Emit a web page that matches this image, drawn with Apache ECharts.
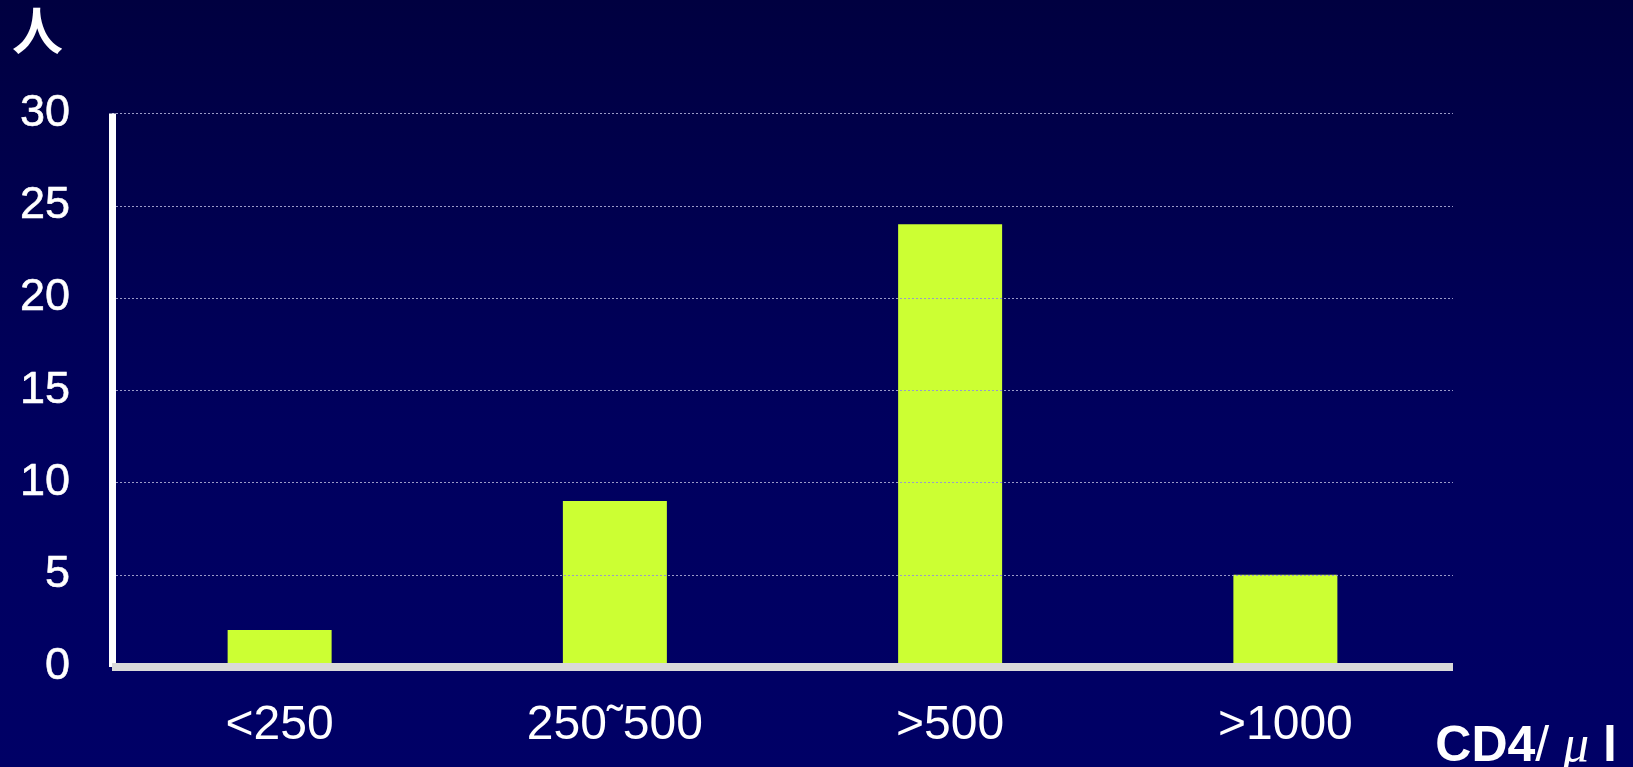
<!DOCTYPE html>
<html>
<head>
<meta charset="utf-8">
<title>CD4</title>
<script src="https://cdn.jsdelivr.net/npm/echarts@6/dist/echarts.min.js"></script>
<style>
  html, body { margin: 0; padding: 0; width: 100%; height: 100%; overflow: hidden; }
  #chart { width: 1633px; height: 767px; }
</style>
</head>
<body>
<div id="chart"></div>
<script>
// CD4 count ranges and number of people in each
const categories = ['<250', '250˜500', '>500', '>1000'];
const people = [2, 9, 24, 5];
const yTicks = [0, 5, 10, 15, 20, 25, 30];
const yUnit = '人';
const xUnitLead = 'CD4';
const xUnitSlash = '/ ';
const xUnitMu = 'μ';
const xUnitTail = ' l';

const chart = echarts.init(document.getElementById('chart'), null, { renderer: 'canvas' });

const labelFont = 'Liberation Sans, Arial, sans-serif';

chart.setOption({
  animation: false,
  backgroundColor: {
    type: 'linear', x: 0, y: 0, x2: 0, y2: 1,
    colorStops: [
      { offset: 0, color: '#000040' },
      { offset: 0.55, color: '#00005e' },
      { offset: 1, color: '#000066' }
    ]
  },
  grid: { left: 112, right: 180, top: 113.5, bottom: 100 },
  xAxis: {
    type: 'category',
    data: categories,
    z: 5,
    axisLine: { show: true, lineStyle: { color: '#d9d9d9', width: 8, cap: 'butt' } },
    axisTick: { show: false },
    axisLabel: {
      color: '#ffffff',
      fontFamily: labelFont,
      fontSize: 48,
      margin: 35
    },
    splitLine: { show: false }
  },
  yAxis: {
    type: 'value',
    min: yTicks[0],
    max: yTicks[yTicks.length - 1],
    interval: yTicks[1] - yTicks[0],
    z: 5,
    axisLine: { show: true, lineStyle: { color: '#ffffff', width: 7, cap: 'butt' } },
    axisTick: { show: false },
    axisLabel: {
      color: '#ffffff',
      fontFamily: labelFont,
      fontSize: 45,
      margin: 42,
      padding: [10, 0, 0, 0],
      textBorderColor: '#ffffff',
      textBorderWidth: 0.6
    },
    splitLine: {
      show: true,
      lineStyle: { color: '#9a9ac8', width: 1, type: [2, 2] }
    }
  },
  series: [{
    type: 'bar',
    data: people,
    barWidth: 104,
    itemStyle: { color: '#ccff33' }
  }],
  graphic: [
    {
      type: 'text',
      left: 12,
      top: 5,
      style: {
        text: yUnit,
        fill: '#ffffff',
        font: 'bold 51px "Noto Sans CJK JP", sans-serif'
      }
    },
    {
      type: 'text',
      right: 16,
      top: 721,
      style: {
        text: '{a|' + xUnitLead + '}{s|' + xUnitSlash + '}{m|' + xUnitMu + '}{a|' + xUnitTail + '}',
        rich: {
          a: { fill: '#ffffff', fontFamily: '"Liberation Sans", sans-serif', fontWeight: 'bold', fontSize: 50 },
          s: { fill: '#ffffff', fontFamily: '"Liberation Sans", sans-serif', fontSize: 50 },
          m: { fill: '#ffffff', fontFamily: '"Liberation Serif", serif', fontStyle: 'italic', fontSize: 52 }
        }
      }
    }
  ]
});
</script>
</body>
</html>
